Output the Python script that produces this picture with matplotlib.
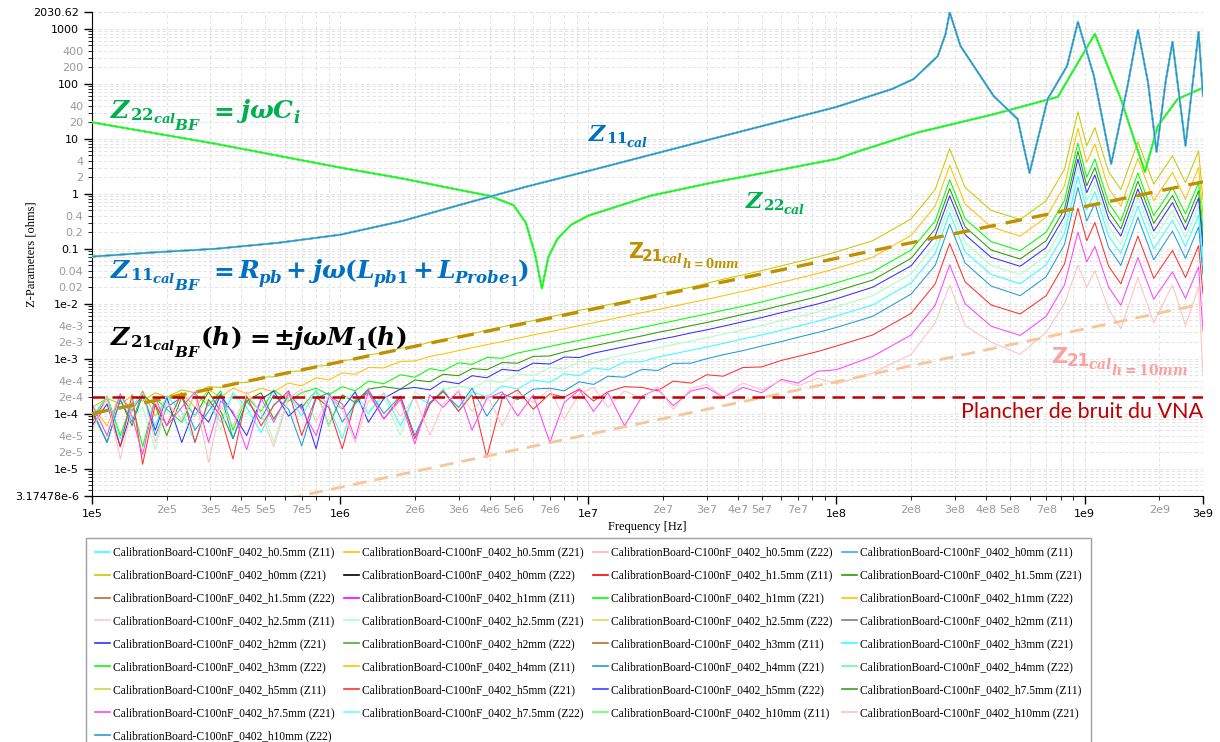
import matplotlib
matplotlib.use("Agg")
import matplotlib.pyplot as plt
from matplotlib.lines import Line2D

# ------------------ données ------------------
z11_freq = [1e5, 1.71e5, 3.16e5, 5.6e5, 1e6, 1.78e6, 3.16e6, 5.6e6, 1e7, 3.16e7,
            1e8, 1.68e8, 2.05e8, 2.56e8, 2.75e8, 2.86e8, 3.16e8, 4.3e8, 5.37e8, 6.0e8,
            7.1e8, 8.5e8, 9.4e8, 1.09e9, 1.28e9, 1.49e9, 1.64e9, 1.8e9, 1.95e9, 2.12e9,
            2.26e9, 2.55e9, 2.88e9, 3.0e9]
z11_vals = [0.072, 0.085, 0.1, 0.128, 0.18, 0.32, 0.66, 1.34, 2.6, 10,
            38, 81, 123, 320, 800, 2000, 490, 60, 23, 2.4,
            53, 212, 1340, 140, 3.5, 92, 960, 108, 5.8, 108,
            580, 7.5, 880, 60]

z22_freq = [1e5, 3.16e5, 1e6, 1.78e6, 3.16e6, 4.0e6, 5.0e6, 5.6e6, 6.1e6, 6.5e6,
            6.9e6, 7.5e6, 8.5e6, 1e7, 1.78e7, 3.16e7, 5.6e7, 1e8, 1.25e8, 2.12e8,
            4.3e8, 7.8e8, 1.1e9, 1.4e9, 1.75e9, 1.97e9, 2.37e9, 3.0e9]
z22_vals = [20, 8.1, 3.0, 1.9, 1.13, 0.92, 0.62, 0.3, 0.08, 0.019,
            0.07, 0.15, 0.27, 0.4, 0.92, 1.6, 2.6, 4.3, 6.1, 13,
            28, 58, 810, 53, 2.5, 17, 53, 85]

z21_freq = [1.0e5, 1.15e5, 1.3e5, 1.45e5, 1.6e5, 1.8e5, 2.0e5, 2.3e5, 2.6e5, 2.95e5,
            3.3e5, 3.7e5, 4.2e5, 4.8e5, 5.4e5, 6.2e5, 7.0e5, 8.0e5, 9.0e5, 1.02e6,
            1.15e6, 1.3e6, 1.5e6, 1.75e6, 2.0e6, 2.3e6, 2.6e6, 3.0e6, 3.4e6, 3.9e6,
            4.5e6, 5.2e6, 6.0e6, 7.0e6, 8.0e6, 9.2e6, 1.05e7, 1.2e7, 1.4e7, 1.65e7,
            1.9e7, 2.2e7, 2.6e7, 3.0e7, 3.5e7, 4.2e7, 5.0e7, 6.0e7, 7.0e7, 8.4e7,
            1.0e8, 1.4e8, 2.0e8, 2.5e8, 2.86e8, 3.3e8, 4.2e8, 5.5e8, 7.0e8, 8.3e8,
            9.4e8, 1.02e9, 1.1e9, 1.25e9, 1.4e9, 1.64e9, 1.9e9, 2.26e9, 2.55e9, 2.88e9,
            3.0e9]

z21_h0 = [1.3e-4, 1.9e-4, 1.5e-4, 2.1e-4, 1.7e-4, 2.4e-4, 2.0e-4, 2.7e-4, 2.4e-4, 3.1e-4,
          3.0e-4, 3.6e-4, 3.7e-4, 4.6e-4, 4.7e-4, 5.8e-4, 6.0e-4, 7.3e-4, 7.6e-4, 9.2e-4,
          9.8e-4, 1.17e-3, 1.28e-3, 1.55e-3, 1.68e-3, 2.0e-3, 2.2e-3, 2.6e-3, 2.85e-3, 3.3e-3,
          3.8e-3, 4.4e-3, 4.9e-3, 5.8e-3, 6.5e-3, 7.6e-3, 8.4e-3, 9.6e-3, 1.1e-2, 1.3e-2,
          1.5e-2, 1.72e-2, 2.0e-2, 2.35e-2, 2.8e-2, 3.35e-2, 4.0e-2, 4.9e-2, 5.8e-2, 7.1e-2,
          8.8e-2, 0.14, 0.35, 1.2, 6.6, 1.3, 0.5, 0.34, 0.75, 2.8,
          31, 7.5, 16, 2.5, 1.2, 8.8, 1.5, 4.9, 1.6, 6.0,
          0.8]
z21_h0p5 = [1.4e-4, 6e-5, 2.2e-4, 1.1e-4, 2.6e-4, 9e-5, 1.9e-4, 2.4e-4, 1.3e-4, 2.7e-4,
            2.0e-4, 2.9e-4, 2.3e-4, 2.9e-4, 2.5e-4, 3.6e-4, 3.2e-4, 4.5e-4, 4.1e-4, 5.5e-4,
            5.2e-4, 6.9e-4, 6.8e-4, 8.9e-4, 9.1e-4, 1.1e-3, 1.22e-3, 1.4e-3, 1.58e-3, 1.8e-3,
            2.05e-3, 2.35e-3, 2.7e-3, 3.1e-3, 3.5e-3, 4.0e-3, 4.5e-3, 5.1e-3, 5.9e-3, 6.9e-3,
            7.8e-3, 9.0e-3, 1.05e-2, 1.2e-2, 1.4e-2, 1.68e-2, 2.0e-2, 2.45e-2, 2.9e-2, 3.55e-2,
            4.4e-2, 0.07, 0.175, 0.6, 3.3, 0.65, 0.25, 0.17, 0.375, 1.4,
            15.5, 3.75, 8.0, 1.25, 0.6, 4.4, 0.75, 2.45, 0.8, 3.0,
            0.4]
z21_h1 = [8e-5, 2.1e-4, 4e-5, 1.6e-4, 2.5e-5, 1.9e-4, 1.2e-4, 7e-5, 2.3e-4, 1.4e-4,
          2.6e-4, 5e-5, 2.0e-4, 1.1e-4, 2.7e-4, 1.7e-4, 2.4e-4, 2.9e-4, 2.2e-4, 3.1e-4,
          2.6e-4, 3.9e-4, 3.5e-4, 5.1e-4, 4.6e-4, 6.6e-4, 6.0e-4, 8.4e-4, 7.9e-4, 1.05e-3,
          1.02e-3, 1.27e-3, 1.45e-3, 1.67e-3, 1.9e-3, 2.15e-3, 2.45e-3, 2.75e-3, 3.2e-3, 3.7e-3,
          4.25e-3, 4.85e-3, 5.7e-3, 6.5e-3, 7.6e-3, 9.0e-3, 1.08e-2, 1.32e-2, 1.57e-2, 1.92e-2,
          2.4e-2, 3.8e-2, 9.5e-2, 0.32, 1.8, 0.35, 0.135, 0.092, 0.2, 0.76,
          8.4, 2.0, 4.3, 0.68, 0.32, 2.4, 0.4, 1.3, 0.43, 1.6,
          0.22]
z21_h1p5 = [1.1e-4, 3e-5, 1.8e-4, 6e-5, 2.2e-4, 1.4e-4, 4e-5, 2.0e-4, 9e-5, 2.5e-4,
            1.1e-4, 3.5e-5, 1.7e-4, 2.4e-4, 8e-5, 2.1e-4, 1.3e-4, 2.6e-4, 6e-5, 2.2e-4,
            1.6e-4, 2.8e-4, 3.1e-4, 2.8e-4, 4.1e-4, 3.8e-4, 5.2e-4, 4.9e-4, 6.6e-4, 6.3e-4,
            8.5e-4, 8.3e-4, 1.1e-3, 1.12e-3, 1.33e-3, 1.52e-3, 1.71e-3, 1.94e-3, 2.24e-3, 2.6e-3,
            3.0e-3, 3.4e-3, 4.0e-3, 4.55e-3, 5.3e-3, 6.4e-3, 7.6e-3, 9.3e-3, 1.1e-2, 1.35e-2,
            1.7e-2, 2.7e-2, 6.7e-2, 0.23, 1.25, 0.25, 0.095, 0.065, 0.14, 0.53,
            5.9, 1.4, 3.0, 0.48, 0.23, 1.7, 0.29, 0.93, 0.3, 1.14,
            0.15]
z21_h2 = [6e-5, 1.5e-4, 2.5e-5, 1.2e-4, 2.2e-4, 5e-5, 2.0e-4, 3e-5, 1.3e-4, 7e-5,
          2.2e-4, 1.0e-4, 4e-5, 1.8e-4, 2.6e-4, 9e-5, 1.5e-4, 2.3e-5, 2.1e-4, 1.2e-4,
          2.5e-4, 7e-5, 1.9e-4, 2.8e-4, 3.0e-4, 2.7e-4, 3.9e-4, 3.5e-4, 4.9e-4, 4.5e-4,
          6.4e-4, 6.0e-4, 8.3e-4, 8.0e-4, 1.07e-3, 1.05e-3, 1.26e-3, 1.43e-3, 1.65e-3, 1.93e-3,
          2.2e-3, 2.5e-3, 2.95e-3, 3.35e-3, 3.9e-3, 4.7e-3, 5.6e-3, 6.9e-3, 8.1e-3, 9.9e-3,
          1.23e-2, 2.0e-2, 4.9e-2, 0.17, 0.92, 0.18, 0.07, 0.048, 0.105, 0.39,
          4.3, 1.05, 2.2, 0.35, 0.17, 1.23, 0.21, 0.69, 0.22, 0.84,
          0.11]
z21_h2p5 = [1.5e-4, 4e-5, 2.3e-4, 8e-5, 1.3e-4, 2.2e-5, 1.7e-4, 2.4e-4, 9e-5, 1.9e-4,
            5e-5, 2.3e-4, 1.0e-4, 1.5e-4, 3e-5, 2.1e-4, 1.2e-4, 2.6e-4, 6e-5, 1.8e-4,
            2.4e-4, 1.1e-4, 2.0e-4, 4e-5, 2.5e-4, 1.6e-4, 2.7e-4, 3.2e-4, 2.8e-4, 4.0e-4,
            3.7e-4, 5.3e-4, 4.9e-4, 6.9e-4, 6.5e-4, 8.8e-4, 8.5e-4, 1.02e-3, 1.18e-3, 1.38e-3,
            1.57e-3, 1.8e-3, 2.1e-3, 2.4e-3, 2.8e-3, 3.35e-3, 4.0e-3, 4.9e-3, 5.8e-3, 7.1e-3,
            8.8e-3, 1.4e-2, 3.5e-2, 0.12, 0.66, 0.13, 0.05, 0.034, 0.075, 0.28,
            3.1, 0.75, 1.6, 0.25, 0.12, 0.88, 0.15, 0.49, 0.16, 0.6,
            0.08]
z21_h3 = [9e-5, 2.0e-4, 3.5e-5, 1.4e-4, 2.3e-4, 6e-5, 2.1e-4, 1.1e-4, 3e-5, 1.6e-4,
          7e-5, 2.4e-4, 1.3e-4, 4.5e-5, 1.5e-4, 2.2e-4, 9e-5, 2.6e-4, 1.4e-4, 3.5e-5,
          1.9e-4, 1.0e-4, 2.4e-4, 6e-5, 2.1e-4, 1.5e-4, 2.8e-4, 1.1e-4, 2.5e-4, 2.0e-4,
          3.2e-4, 2.8e-4, 4.1e-4, 3.7e-4, 5.3e-4, 4.9e-4, 6.8e-4, 6.3e-4, 8.7e-4, 8.8e-4,
          1.07e-3, 1.22e-3, 1.43e-3, 1.63e-3, 1.9e-3, 2.3e-3, 2.7e-3, 3.3e-3, 3.9e-3, 4.8e-3,
          6.0e-3, 9.5e-3, 2.4e-2, 8.2e-2, 0.45, 0.088, 0.034, 0.023, 0.051, 0.19,
          2.1, 0.51, 1.09, 0.17, 0.082, 0.6, 0.1, 0.33, 0.11, 0.41,
          0.054]
z21_h4 = [1.2e-4, 3e-5, 1.8e-4, 7e-5, 2.5e-4, 4e-5, 1.3e-4, 2.0e-4, 5e-5, 1.1e-4,
          2.3e-4, 3.5e-5, 1.7e-4, 8e-5, 2.2e-4, 1.2e-4, 2.6e-5, 1.9e-4, 2.4e-4, 7e-5,
          1.5e-4, 2.7e-4, 1.0e-4, 2.1e-4, 4e-5, 1.6e-4, 2.5e-4, 1.3e-4, 2.9e-4, 9e-5,
          2.3e-4, 1.8e-4, 2.8e-4, 2.9e-4, 2.6e-4, 3.8e-4, 3.4e-4, 4.8e-4, 4.6e-4, 6.4e-4,
          6.1e-4, 8.2e-4, 8.3e-4, 1.0e-3, 1.18e-3, 1.4e-3, 1.7e-3, 2.05e-3, 2.45e-3, 3.0e-3,
          3.7e-3, 5.9e-3, 1.5e-2, 5.0e-2, 0.28, 0.055, 0.021, 0.014, 0.031, 0.12,
          1.3, 0.32, 0.67, 0.105, 0.05, 0.37, 0.063, 0.21, 0.067, 0.25,
          0.034]
z21_h5 = [7e-5, 1.9e-4, 2.5e-5, 2.2e-4, 1.2e-5, 1.5e-4, 6e-5, 2.4e-4, 3e-5, 1.8e-4,
          9e-5, 1.5e-5, 2.1e-4, 6e-5, 1.4e-4, 2.6e-4, 4e-5, 2.0e-4, 1.3e-4, 2.3e-5,
          1.7e-4, 2.4e-4, 8e-5, 2.0e-4, 3.5e-5, 1.5e-4, 2.6e-4, 1.1e-4, 2.2e-4, 1.6e-5,
          1.9e-4, 2.7e-4, 1.2e-4, 2.3e-4, 2.0e-4, 2.8e-4, 1.7e-4, 2.5e-4, 3.1e-4, 3.0e-4,
          2.6e-4, 3.9e-4, 3.6e-4, 5.1e-4, 4.8e-4, 6.9e-4, 7.1e-4, 9.3e-4, 1.1e-3, 1.35e-3,
          1.7e-3, 2.7e-3, 6.7e-3, 2.3e-2, 0.125, 0.025, 9.5e-3, 6.5e-3, 1.4e-2, 5.3e-2,
          0.55, 0.14, 0.3, 0.048, 0.023, 0.17, 0.029, 0.093, 0.03, 0.114,
          0.015]
z21_h7p5 = [1.5e-4, 4e-5, 2.3e-4, 9e-5, 1.8e-5, 2.0e-4, 6e-5, 1.3e-4, 2.5e-4, 3e-5,
            1.7e-4, 1.1e-4, 2.2e-5, 1.9e-4, 7e-5, 2.4e-4, 1.2e-4, 4e-5, 2.1e-4, 1.5e-4,
            3.5e-5, 2.6e-4, 8e-5, 1.8e-4, 2.8e-5, 2.2e-4, 1.3e-4, 2.6e-4, 5e-5, 1.9e-4,
            2.5e-4, 9e-5, 2.2e-4, 3e-5, 1.6e-4, 2.7e-4, 1.1e-4, 2.4e-4, 6e-5, 2.1e-4,
            2.8e-4, 1.4e-4, 2.6e-4, 3.0e-4, 2.0e-4, 3.0e-4, 2.4e-4, 4.2e-4, 3.6e-4, 5.9e-4,
            6.3e-4, 1.1e-3, 2.7e-3, 9.4e-3, 5.1e-2, 1.0e-2, 3.9e-3, 2.65e-3, 5.9e-3, 2.2e-2,
            0.2, 0.058, 0.11, 0.02, 9.4e-3, 6.9e-2, 1.2e-2, 3.8e-2, 1.25e-2, 4.7e-2,
            3.2e-3]
z21_h10 = [5e-5, 2.0e-4, 1.5e-5, 1.2e-4, 2.4e-4, 3e-5, 1.6e-4, 8e-5, 2.2e-4, 1.3e-5,
           1.4e-4, 6e-5, 2.5e-4, 1.0e-4, 2.5e-5, 1.9e-4, 2.8e-4, 7e-5, 2.1e-4, 1.2e-4,
           3e-5, 1.7e-4, 2.3e-4, 9e-5, 2.0e-4, 4e-5, 1.5e-4, 2.6e-4, 1.1e-4, 2.2e-4,
           6e-5, 2.4e-4, 1.6e-4, 2.8e-4, 8e-5, 2.3e-4, 3.0e-4, 1.3e-4, 2.6e-4, 1.9e-4,
           3.1e-4, 1.2e-4, 2.9e-4, 3.4e-4, 2.0e-4, 3.6e-4, 2.7e-4, 4.0e-4, 3.2e-4, 4.4e-4,
           3.5e-4, 5.5e-4, 1.2e-3, 4.5e-3, 2.2e-2, 4.0e-3, 2.0e-3, 1.2e-3, 3.0e-3, 1.0e-2,
           0.05, 0.02, 0.04, 8e-3, 3.5e-3, 0.03, 4.5e-3, 0.022, 4e-3, 0.02,
           5e-4]

# droites asymptotiques et plancher de bruit
asym_freq = [1e5, 3e9]
asym_h0 = [1e-4, 1.65]
asym_h10 = [5e-7, 1.0e-2]
floor_vals = [2e-4, 2e-4]

heights = ['h0.5mm', 'h0mm', 'h1.5mm', 'h1mm', 'h2.5mm', 'h2mm', 'h3mm', 'h4mm',
           'h5mm', 'h7.5mm', 'h10mm']
z21_data = {'h0mm': z21_h0, 'h0.5mm': z21_h0p5, 'h1mm': z21_h1, 'h1.5mm': z21_h1p5,
            'h2mm': z21_h2, 'h2.5mm': z21_h2p5, 'h3mm': z21_h3, 'h4mm': z21_h4,
            'h5mm': z21_h5, 'h7.5mm': z21_h7p5, 'h10mm': z21_h10}

# (hauteur, paramètre, couleur) dans l'ordre de la légende
series = [
    ('h0.5mm', 'Z11', '#33ffff'), ('h0.5mm', 'Z21', '#ffc000'), ('h0.5mm', 'Z22', '#ffb3b3'), ('h0mm', 'Z11', '#3fa9e0'),
    ('h0mm', 'Z21', '#c8c800'), ('h0mm', 'Z22', '#000000'), ('h1.5mm', 'Z11', '#ff0000'), ('h1.5mm', 'Z21', '#2a9d00'),
    ('h1.5mm', 'Z22', '#b5702a'), ('h1mm', 'Z11', '#ff00ff'), ('h1mm', 'Z21', '#00ff00'), ('h1mm', 'Z22', '#ffc000'),
    ('h2.5mm', 'Z11', '#ffc8c8'), ('h2.5mm', 'Z21', '#a6ffc4'), ('h2.5mm', 'Z22', '#dcdc5a'), ('h2mm', 'Z11', '#7f7f7f'),
    ('h2mm', 'Z21', '#3030ff'), ('h2mm', 'Z22', '#55a832'), ('h3mm', 'Z11', '#b5702a'), ('h3mm', 'Z21', '#33ffff'),
    ('h3mm', 'Z22', '#00ff00'), ('h4mm', 'Z11', '#ffc000'), ('h4mm', 'Z21', '#1f9bd7'), ('h4mm', 'Z22', '#66ff99'),
    ('h5mm', 'Z11', '#d6d63c'), ('h5mm', 'Z21', '#ff3030'), ('h5mm', 'Z22', '#4040ff'), ('h7.5mm', 'Z11', '#3c9c28'),
    ('h7.5mm', 'Z21', '#ff44ff'), ('h7.5mm', 'Z22', '#66ffff'), ('h10mm', 'Z11', '#66ff66'), ('h10mm', 'Z21', '#ffc0c0'),
    ('h10mm', 'Z22', '#2a9fd0'),
]
color_of = {(h, p): c for h, p, c in series}

plt.rcParams['mathtext.fontset'] = 'custom'
plt.rcParams['mathtext.rm'] = 'DejaVu Serif:bold'
plt.rcParams['mathtext.bf'] = 'DejaVu Serif:bold'
plt.rcParams['mathtext.it'] = 'DejaVu Serif:italic:bold'

W, H = 1220, 742
fig = plt.figure(figsize=(W / 100, H / 100), dpi=100)
ax = fig.add_axes([92 / W, 246 / H, 1111 / W, 484 / H])
ax.set_xscale('log')
ax.set_yscale('log')

# Z21 (bruit + couplage)
for h in heights:
    ax.plot(z21_freq, z21_data[h], color=color_of[(h, 'Z21')], lw=0.75, zorder=2)

# Z22 et Z11 : toutes les hauteurs se superposent
for h, p, c in series:
    if p == 'Z22' and c != '#00ff00':
        ax.plot(z22_freq, z22_vals, color=c, lw=1.0, zorder=3)
ax.plot(z22_freq, z22_vals, color='#8cff8c', lw=1.5, zorder=3)
ax.plot(z22_freq, z22_vals, color=color_of[('h3mm', 'Z22')], lw=0.9, zorder=3)
for h, p, c in series:
    if p == 'Z11':
        ax.plot(z11_freq, z11_vals, color=c, lw=1.0, zorder=3)
ax.plot(z11_freq, z11_vals, color='#8fdcf5', lw=1.5, zorder=3)
ax.plot(z11_freq, z11_vals, color='#1f90cf', lw=0.9, zorder=3)

# droites en tirets
ax.plot(asym_freq, asym_h0, color='#bf9000', lw=2.4, ls=(0, (5, 3)), zorder=4)
ax.plot(asym_freq, asym_h10, color='#f8c49a', lw=2.0, ls=(0, (5, 3)), zorder=4)
ax.plot(asym_freq, floor_vals, color='#c00000', lw=1.8, ls=(0, (5, 3)), zorder=5)

ax.set_xlim(1e5, 3e9)
ax.set_ylim(3.17478e-6, 2030.62)

# ------------------ graduations ------------------
xmaj = [1e5, 1e6, 1e7, 1e8, 1e9, 3e9]
xmaj_lab = ['1e5', '1e6', '1e7', '1e8', '1e9', '3e9']
xmin, xmin_lab = [], []
for n in range(5, 10):
    for k in range(2, 10):
        v = k * 10.0 ** n
        if v >= 3e9:
            continue
        xmin.append(v)
        xmin_lab.append(f'{k}e{n}' if k in (2, 3, 4, 5, 7) else '')

ymaj = [3.17478e-6, 1e-5, 1e-4, 1e-3, 1e-2, 0.1, 1, 10, 100, 1000, 2030.62]
ymaj_lab = ['3.17478e-6', '1e-5', '1e-4', '1e-3', '1e-2', '0.1', '1', '10', '100', '1000', '2030.62']
ymin, ymin_lab = [], []
for n in range(-6, 4):
    for k in range(2, 10):
        v = k * 10.0 ** n
        if v <= 3.17478e-6 or v >= 2030.62:
            continue
        ymin.append(v)
        if k in (2, 4) and -5 <= n <= 2:
            ymin_lab.append(f'{k * 10.0 ** n:g}' if n >= -2 else f'{k}e{n}')
        else:
            ymin_lab.append('')

ax.set_xticks(xmaj, xmaj_lab)
ax.set_xticks(xmin, xmin_lab, minor=True)
ax.set_yticks(ymaj, ymaj_lab)
ax.set_yticks(ymin, ymin_lab, minor=True)
ax.tick_params(which='major', length=6, width=1, labelsize=8, labelcolor='black', direction='out')
ax.tick_params(which='minor', length=3, width=0.6, labelsize=8, labelcolor='#9a9a9a', direction='out')
ax.grid(True, which='both', color='#dedede', lw=0.6, ls=(0, (4, 3)))
ax.set_axisbelow(True)
for s in ('top', 'right'):
    ax.spines[s].set_visible(False)

serif = 'Liberation Serif'
fig.text(647 / W, 1 - 527 / H, 'Frequency [Hz]', ha='center', va='center', fontsize=9, family=serif)
fig.text(32 / W, 1 - 254 / H, 'Z-Parameters [ohms]', ha='center', va='center', rotation=90,
         fontsize=9, family=serif)

# ------------------ annotations (indices composés morceau par morceau) ------------------
renderer = fig.canvas.get_renderer()
sans_b = {'family': 'DejaVu Sans', 'weight': 'bold'}


def rich(x, y, pieces, color, kern=1.5):
    # pieces : (texte, taille, décalage vertical en px, écart avant en px[, police])
    for piece in pieces:
        s, size, dy, gap = piece[:4]
        kw = piece[4] if len(piece) > 4 else {}
        x += gap
        t = fig.text(x / W, 1 - (y + dy) / H, s, color=color, fontsize=size,
                     ha='left', va='baseline', **kw)
        x += t.get_window_extent(renderer).width - kern


rich(110, 118, [('$Z$', 18, 0, 0), ('$22$', 12, 2, 0), ('$cal$', 9.5, 5, 0), ('$BF$', 11, 12, 0),
                ('$=$', 18, 0, 8), (r'$j\omega C$', 18, 0, 4), ('$i$', 12, 5, 0)], '#00b050')
rich(588, 141, [('$Z$', 16, 0, 0), ('$11$', 11, 2, 0), ('$cal$', 9, 6, 0)], '#0070c0')
rich(745, 208, [('$Z$', 16, 0, 0), ('$22$', 11, 2, 0), ('$cal$', 9, 6, 0)], '#00b050')
rich(110, 278, [('$Z$', 18, 0, 0), ('$11$', 12, 2, 0), ('$cal$', 9.5, 5, 0), ('$BF$', 11, 12, 0),
                ('$=$', 18, 0, 8), ('$R$', 18, 0, 6), ('$pb$', 12, 5, 0), ('$+$', 18, 0, 4),
                (r'$j\omega(L$', 18, 0, 4), ('$pb1$', 12, 5, 0), ('$+$', 18, 0, 5),
                ('$L$', 18, 0, 6), ('$Probe$', 12, 5, 0), ('$1$', 9, 8, 0), ('$)$', 18, 0, 0)],
     '#0070c0')
rich(628, 258, [('Z', 15, 0, 0, sans_b), ('21', 11, 3, 0, sans_b), ('$cal$', 9, 5, 0),
                ('$h=0mm$', 8.5, 10, 0)], '#bf9000')
rich(110, 345, [('$Z$', 18, 0, 0), ('$21$', 12, 2, 0), ('$cal$', 9.5, 5, 0), ('$BF$', 11, 12, 0),
                ('$(h)$', 18, 0, 0), ('$=$', 18, 0, 5), (r'$\pm j\omega M$', 18, 0, 4),
                ('$1$', 12, 5, 0), ('$(h)$', 18, 0, 0)], 'black')
rich(1052, 363, [('Z', 16, 0, 0, sans_b), ('21', 12, 3, 0, sans_b), ('$cal$', 10, 6, 0),
                 ('$h=10mm$', 10, 12, 0)], '#ffa0a0')
fig.text(1203 / W, 1 - 418 / H, 'Plancher de bruit du VNA', color='#c00000', fontsize=15.5,
         family='Lato', ha='right', va='baseline')

# ------------------ légende (ordre ligne par ligne) ------------------
handles = [Line2D([], [], color=c, lw=1.2) for h, p, c in series]
labels = [f'CalibrationBoard-C100nF_0402_{h} ({p})' for h, p, c in series]
ncol = 4
order = [r * ncol + c for c in range(ncol) for r in range(9) if r * ncol + c < len(series)]
leg = fig.legend([handles[i] for i in order], [labels[i] for i in order],
                 loc='upper left', bbox_to_anchor=(86 / W, 1 - 538 / H), ncol=ncol,
                 prop={'family': serif, 'size': 8.3}, frameon=True, fancybox=False,
                 edgecolor='#a0a0a0', framealpha=1, borderaxespad=0, borderpad=0.75,
                 handlelength=1.3, handletextpad=0.25, columnspacing=0.85, labelspacing=0.95)
leg.get_frame().set_linewidth(1.0)

fig.savefig('out.png', dpi=100)
